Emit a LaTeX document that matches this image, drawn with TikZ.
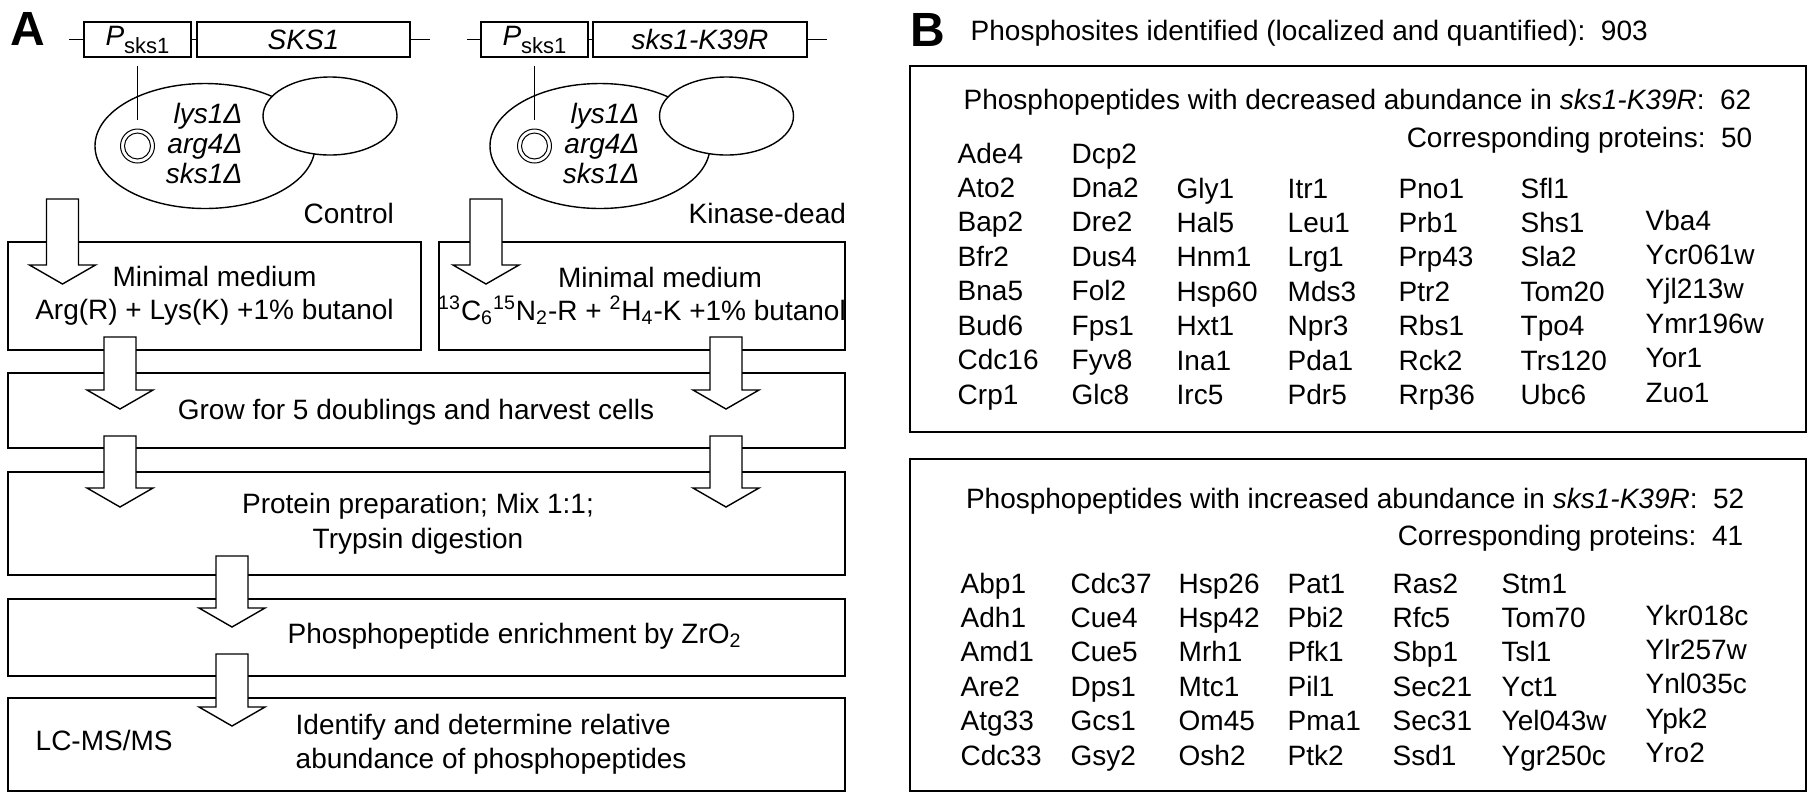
\documentclass[tikz,border=0pt]{standalone}
\usepackage{fontspec}
\setmainfont{Liberation Sans}
\usetikzlibrary{calc,shapes.geometric}

% hollow block arrow from #1 down to its tip #2
\newcommand{\fatarrow}[2]{%
  \draw[fill=white] ($(#1)+(-16,0)$) -- ($(#2)+(-16,-19)$) -- ($(#2)+(-33,-19)$)
    -- (#2) -- ($(#2)+(33,-19)$) -- ($(#2)+(16,-19)$) -- ($(#1)+(16,0)$) -- cycle;}

\begin{document}
\begin{tikzpicture}[x=0.5pt,y=-0.5pt,line width=0.7pt,
  font=\fontsize{14}{17}\selectfont,
  every node/.style={inner sep=0pt},
  gbox/.style={draw,minimum height=17.5pt},
  stage/.style={draw,minimum width=418.5pt},
  cell/.style={ellipse,draw,fill=white},
  plasmid/.style={circle,draw,line width=0.5pt},
  geno/.style={anchor=east,align=right,font=\fontsize{14}{15}\selectfont\itshape},
  gene/.style={anchor=base west},
  panel/.style={font=\fontsize{24}{24}\selectfont\bfseries,anchor=base west}]
  \useasboundingbox (0,0) rectangle (1815,800);

  % A: strains
  \node[panel] (labA) at (10,45) {A};
  \node[gbox,minimum width=53.5pt] (prom1) at (137.5,39.5) {\textit{P}\raisebox{-4pt}{\fontsize{11}{11}\selectfont sks1}};
  \node[gbox,minimum width=106.5pt] (orf1) at (303.5,39.5) {\textit{SKS1}};
  \coordinate (l1) at (69,39.5);
  \coordinate (r1) at (430,39.5);
  \draw (l1) -- (prom1) -- (orf1) -- (r1);
  \node[cell,minimum width=110pt,minimum height=62.5pt] (cell1) at (205,146) {};
  \node[cell,minimum width=67pt,minimum height=39pt] (bud1) at (330,116) {};
  \node[plasmid,minimum size=17pt] (plas1) at (137.5,146) {};
  \node[plasmid,minimum size=13pt] (plas1in) at (plas1) {};
  \draw ([yshift=-4pt]prom1.south) -- ([yshift=4.5pt]plas1.north);
  \node[geno] (geno1) at (243,143) {lys1Δ\\arg4Δ\\sks1Δ};
  \node[anchor=base west] (ctrl) at (303,223) {Control};

  \node[gbox,minimum width=53.5pt] (prom2) at (534.5,39.5) {\textit{P}\raisebox{-4pt}{\fontsize{11}{11}\selectfont sks1}};
  \node[gbox,minimum width=107pt] (orf2) at (700,39.5) {\textit{sks1-K39R}};
  \coordinate (l2) at (467,39.5);
  \coordinate (r2) at (827,39.5);
  \draw (l2) -- (prom2) -- (orf2) -- (r2);
  \node[cell,minimum width=110pt,minimum height=62.5pt] (cell2) at (600,146) {};
  \node[cell,minimum width=67pt,minimum height=39pt] (bud2) at (726.5,116) {};
  \node[plasmid,minimum size=17pt] (plas2) at (534.5,146) {};
  \node[plasmid,minimum size=13pt] (plas2in) at (plas2) {};
  \draw ([yshift=-4pt]prom2.south) -- ([yshift=4.5pt]plas2.north);
  \node[geno] (geno2) at (640,143) {lys1Δ\\arg4Δ\\sks1Δ};
  \node[anchor=base west] (kd) at (688,223) {Kinase-dead};

  % A: workflow
  \node[draw,minimum width=206.5pt,minimum height=54pt,align=center,
    font=\fontsize{14}{16.5}\selectfont] (med1) at (214.5,296)
    {Minimal medium\\Arg(R) + Lys(K) +1\% butanol};
  \node[draw,minimum width=203pt,minimum height=54pt] (med2) at (642,296) {};
  \node[stage,minimum height=37.5pt] (grow) at (426.5,410.5) {};
  \node[stage,minimum height=51.5pt] (prep) at (426.5,523.5) {};
  \node[stage,minimum height=38.5pt] (enrich) at (426.5,637.5) {};
  \node[stage,minimum height=46.5pt] (lcms) at (426.5,744.5) {};

  \foreach \nm/\x/\ya/\yb in {ctl/62.5/199/284, kdd/486/199/284,
      ctl2/120/337/409, kdd2/726/337/409, ctl3/120/436/507, kdd3/726/436/507,
      mix/232/556/627, ms/232/654/726} {
    \coordinate (\nm-s) at (\x,\ya);
    \coordinate (\nm-t) at (\x,\yb);
    \fatarrow{\nm-s}{\nm-t}
  }

  \node[anchor=base] (med2a) at (660,287) {Minimal medium};
  \node[anchor=base] (med2b) at (642,320)
    {\textsuperscript{13}C\textsubscript{6}\textsuperscript{15}N\textsubscript{2}-R + \textsuperscript{2}H\textsubscript{4}-K +1\% butanol};
  \node[anchor=base] (growtxt) at (416,419) {Grow for 5 doublings and harvest cells};
  \node[anchor=north,align=center,font=\fontsize{14}{17.5}\selectfont] (preptxt) at (418,492)
    {Protein preparation; Mix 1:1;\\Trypsin digestion};
  \node[anchor=base west] (enrtxt) at (287,643) {Phosphopeptide enrichment by ZrO\textsubscript{2}};
  \node[anchor=base west] (lctxt) at (35,750) {LC-MS/MS};
  \node[anchor=north west,align=left] (idtxt) at (295,713)
    {Identify and determine relative\\abundance of phosphopeptides};

  % B: phosphosites
  \node[panel] (labB) at (910,46) {B};
  \node[anchor=base west] (sites) at (970,40) {Phosphosites identified (localized and quantified):\ \ 903};
  \node[draw,minimum width=448pt,minimum height=183pt] (decbox) at (1358,249) {};
  \node[draw,minimum width=448pt,minimum height=166pt] (incbox) at (1358,625) {};

  \node[anchor=base east] (dechead) at (1752,109)
    {Phosphopeptides with decreased abundance in \textit{sks1-K39R}:\ \ 62};
  \node[anchor=base east] (decprot) at (1753,147) {Corresponding proteins:\ \ 50};
  \foreach \x/\y/\names in {957/163/{Ade4,Ato2,Bap2,Bfr2,Bna5,Bud6,Cdc16,Crp1},
      1071/163/{Dcp2,Dna2,Dre2,Dus4,Fol2,Fps1,Fyv8,Glc8},
      1176/198/{Gly1,Hal5,Hnm1,Hsp60,Hxt1,Ina1,Irc5},
      1287/198/{Itr1,Leu1,Lrg1,Mds3,Npr3,Pda1,Pdr5},
      1398/198/{Pno1,Prb1,Prp43,Ptr2,Rbs1,Rck2,Rrp36},
      1520/198/{Sfl1,Shs1,Sla2,Tom20,Tpo4,Trs120,Ubc6},
      1645/230/{Vba4,Ycr061w,Yjl213w,Ymr196w,Yor1,Zuo1}}
    \foreach \g [count=\k from 0] in \names
      \node[gene] (dec-\g) at (\x,{\y+34.43*\k}) {\g};

  \node[anchor=base east] (inchead) at (1745,508)
    {Phosphopeptides with increased abundance in \textit{sks1-K39R}:\ \ 52};
  \node[anchor=base east] (incprot) at (1744,545) {Corresponding proteins:\ \ 41};
  \foreach \x/\y/\names in {960/593/{Abp1,Adh1,Amd1,Are2,Atg33,Cdc33},
      1070/593/{Cdc37,Cue4,Cue5,Dps1,Gcs1,Gsy2},
      1178/593/{Hsp26,Hsp42,Mrh1,Mtc1,Om45,Osh2},
      1287/593/{Pat1,Pbi2,Pfk1,Pil1,Pma1,Ptk2},
      1392/593/{Ras2,Rfc5,Sbp1,Sec21,Sec31,Ssd1},
      1501/593/{Stm1,Tom70,Tsl1,Yct1,Yel043w,Ygr250c},
      1645/625/{Ykr018c,Ylr257w,Ynl035c,Ypk2,Yro2}}
    \foreach \g [count=\k from 0] in \names
      \node[gene] (inc-\g) at (\x,{\y+34.4*\k}) {\g};
\end{tikzpicture}
\end{document}
